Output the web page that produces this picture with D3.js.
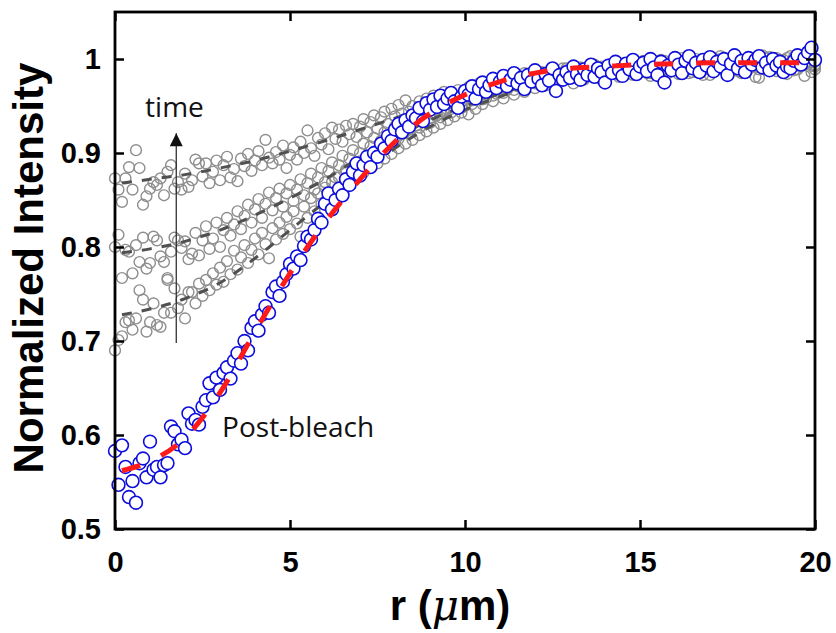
<!DOCTYPE html>
<html lang="en">
<head>
    <meta charset="UTF-8">
    <title>FRAP radial profiles</title>
    <script src="https://cdnjs.cloudflare.com/ajax/libs/d3/7.8.5/d3.min.js"></script>
    <style>
        html, body { margin: 0; padding: 0; background: #fff; }
        .tick text { font-family: "Liberation Sans", Arial, sans-serif; font-weight: bold; font-size: 29px; fill: #000; }
        .axis-title { font-family: "Liberation Sans", Arial, sans-serif; font-weight: bold; font-size: 42px; fill: #000; }
        .note { font-family: "Open Sans", sans-serif; font-size: 28px; fill: #111; }
    </style>
</head>
<body>
<div id="chart"></div>
<script>
    // radial position grid (um), one sample every 0.1 um
    const rGrid = d3.range(201).map(i => i / 10);

    const postBleach = [
        0.583, 0.547, 0.589, 0.566, 0.534, 0.551, 0.528, 0.570, 0.575, 0.555,
        0.593, 0.563, 0.566, 0.555, 0.568, 0.570, 0.609, 0.604, 0.590, 0.595,
        0.586, 0.623, 0.612, 0.616, 0.611, 0.630, 0.637, 0.655, 0.640, 0.661,
        0.648, 0.666, 0.672, 0.660, 0.679, 0.687, 0.676, 0.700, 0.690, 0.714,
        0.721, 0.711, 0.728, 0.737, 0.730, 0.752, 0.758, 0.748, 0.763, 0.771,
        0.782, 0.777, 0.790, 0.786, 0.801, 0.811, 0.808, 0.818, 0.830, 0.826,
        0.846, 0.857, 0.840, 0.850, 0.862, 0.855, 0.872, 0.866, 0.880, 0.889,
        0.876, 0.887, 0.896, 0.885, 0.900, 0.896, 0.910, 0.905, 0.918, 0.913,
        0.925, 0.931, 0.922, 0.935, 0.928, 0.940, 0.937, 0.948, 0.934, 0.953,
        0.946, 0.957, 0.949, 0.961, 0.952, 0.958, 0.964, 0.955, 0.948, 0.960,
        0.966, 0.962, 0.971, 0.958, 0.968, 0.975, 0.965, 0.972, 0.979, 0.969,
        0.976, 0.982, 0.971, 0.978, 0.985, 0.974, 0.980, 0.968, 0.983, 0.976,
        0.988, 0.979, 0.972, 0.984, 0.977, 0.990, 0.966, 0.983, 0.978, 0.986,
        0.980, 0.992, 0.984, 0.978, 0.989, 0.983, 0.994, 0.981, 0.990, 0.986,
        0.975, 0.993, 0.985, 0.997, 0.988, 0.982, 0.995, 0.989, 0.999, 0.984,
        0.992, 0.996, 0.987, 1.000, 0.991, 0.983, 0.997, 0.975, 0.993, 0.988,
        1.001, 0.994, 0.985, 0.998, 1.003, 0.990, 0.996, 0.986, 0.999, 0.993,
        1.002, 0.987, 0.997, 0.992, 1.000, 0.983, 0.995, 1.004, 0.990, 0.998,
        0.986, 1.001, 0.994, 0.999, 1.003, 0.991, 0.996, 0.988, 1.000, 0.993,
        0.997, 0.986, 0.992, 0.990, 0.998, 1.004, 0.994, 1.001, 1.007, 1.012,
        0.999
    ];

    const recoveryLate = [
        0.873, 0.861, 0.848, 0.873, 0.885, 0.861, 0.903, 0.884, 0.845, 0.854,
        0.862, 0.869, 0.866, 0.873, 0.855, 0.880, 0.887, 0.862, 0.869, 0.861,
        0.878, 0.864, 0.871, 0.893, 0.889, 0.875, 0.889, 0.868, 0.880, 0.892,
        0.871, 0.887, 0.896, 0.874, 0.883, 0.870, 0.894, 0.886, 0.899, 0.881,
        0.892, 0.902, 0.887, 0.914, 0.895, 0.889, 0.901, 0.893, 0.908, 0.884,
        0.898, 0.906, 0.893, 0.912, 0.900, 0.924, 0.905, 0.897, 0.916, 0.909,
        0.921, 0.904, 0.927, 0.915, 0.925, 0.912, 0.929, 0.920, 0.931, 0.917,
        0.928, 0.936, 0.922, 0.933, 0.940, 0.926, 0.938, 0.944, 0.931, 0.947,
        0.939, 0.951, 0.942, 0.956, 0.944, 0.950, 0.941, 0.955, 0.947, 0.958,
        0.950, 0.961, 0.946, 0.957, 0.965, 0.953, 0.962, 0.956, 0.967, 0.959,
        0.964, 0.970, 0.958, 0.969, 0.974, 0.962, 0.971, 0.966, 0.977, 0.968,
        0.973, 0.980, 0.969, 0.976, 0.983, 0.972, 0.979, 0.985, 0.974, 0.981,
        0.977, 0.986, 0.979, 0.972, 0.984, 0.988, 0.978, 0.985, 0.981, 0.990,
        0.983, 0.987, 0.980, 0.991, 0.985, 0.989, 0.982, 0.993, 0.986, 0.990,
        0.984, 0.994, 0.988, 0.991, 0.983, 0.995, 0.989, 0.992, 0.986, 0.996,
        0.990, 0.994, 0.985, 0.997, 0.991, 0.995, 0.988, 0.998, 0.992, 0.996,
        0.989, 0.999, 0.993, 0.997, 0.985, 0.996, 1.000, 0.992, 0.998, 0.990,
        0.995, 1.001, 0.993, 0.997, 0.988, 0.999, 0.994, 1.002, 0.996, 0.991,
        0.998, 0.993, 1.001, 0.995, 0.989, 0.999, 0.994, 1.002, 0.996, 0.991,
        0.999, 0.994, 1.001, 0.996, 0.988, 0.998, 0.993, 1.003, 0.997, 0.986,
        0.994
    ];

    const recoveryMid = [
        0.800, 0.813, 0.767, 0.797, 0.795, 0.772, 0.802, 0.784, 0.810, 0.777,
        0.783, 0.811, 0.807, 0.790, 0.784, 0.767, 0.795, 0.810, 0.807, 0.799,
        0.806, 0.787, 0.793, 0.815, 0.791, 0.807, 0.822, 0.798, 0.809, 0.826,
        0.800, 0.818, 0.831, 0.812, 0.824, 0.838, 0.819, 0.833, 0.845, 0.826,
        0.840, 0.851, 0.831, 0.846, 0.858, 0.839, 0.852, 0.862, 0.843, 0.857,
        0.866, 0.849, 0.861, 0.872, 0.855, 0.868, 0.878, 0.861, 0.874, 0.884,
        0.869, 0.881, 0.890, 0.874, 0.887, 0.897, 0.882, 0.894, 0.903, 0.889,
        0.900, 0.910, 0.896, 0.907, 0.916, 0.903, 0.913, 0.922, 0.909, 0.919,
        0.928, 0.915, 0.925, 0.934, 0.921, 0.931, 0.939, 0.927, 0.936, 0.944,
        0.932, 0.941, 0.949, 0.938, 0.946, 0.953, 0.943, 0.951, 0.958, 0.948,
        0.956, 0.962, 0.952, 0.960, 0.966, 0.957, 0.964, 0.970, 0.961, 0.968,
        0.973, 0.964, 0.971, 0.977, 0.967, 0.974, 0.980, 0.971, 0.977, 0.983,
        0.974, 0.980, 0.986, 0.976, 0.983, 0.988, 0.979, 0.985, 0.990, 0.981,
        0.987, 0.992, 0.983, 0.989, 0.978, 0.991, 0.985, 0.994, 0.987, 0.992,
        0.982, 0.993, 0.988, 0.996, 0.989, 0.984, 0.995, 0.990, 0.997, 0.986,
        0.993, 0.998, 0.991, 0.985, 0.996, 0.992, 0.999, 0.987, 0.994, 0.998,
        0.990, 0.996, 1.001, 0.988, 0.995, 0.999, 0.991, 0.997, 0.983, 0.996,
        1.000, 0.992, 0.998, 1.003, 0.990, 0.996, 1.001, 0.993, 0.987, 0.999,
        0.994, 1.002, 0.996, 0.981, 0.997, 1.004, 0.992, 0.998, 0.989, 1.001,
        0.995, 0.999, 0.990, 1.003, 0.996, 0.993, 1.000, 0.994, 1.005, 0.997,
        0.992
    ];

    const recoveryEarly = [
        0.690, 0.701, 0.705, 0.720, 0.722, 0.712, 0.724, 0.754, 0.744, 0.710,
        0.720, 0.740, 0.717, 0.715, 0.730, 0.765, 0.730, 0.756, 0.735, 0.744,
        0.724, 0.752, 0.752, 0.740, 0.761, 0.748, 0.765, 0.754, 0.772, 0.760,
        0.778, 0.763, 0.785, 0.771, 0.796, 0.776, 0.789, 0.802, 0.783, 0.797,
        0.809, 0.792, 0.815, 0.803, 0.788, 0.820, 0.808, 0.826, 0.814, 0.832,
        0.819, 0.838, 0.825, 0.811, 0.843, 0.831, 0.852, 0.838, 0.857, 0.846,
        0.863, 0.850, 0.869, 0.856, 0.874, 0.861, 0.880, 0.868, 0.885, 0.873,
        0.891, 0.879, 0.895, 0.884, 0.901, 0.889, 0.906, 0.894, 0.911, 0.899,
        0.916, 0.905, 0.920, 0.910, 0.925, 0.914, 0.929, 0.919, 0.933, 0.923,
        0.937, 0.927, 0.940, 0.931, 0.944, 0.935, 0.947, 0.939, 0.951, 0.943,
        0.950, 0.941, 0.956, 0.947, 0.961, 0.952, 0.958, 0.966, 0.955, 0.963,
        0.970, 0.958, 0.967, 0.974, 0.962, 0.971, 0.977, 0.965, 0.974, 0.980,
        0.969, 0.977, 0.984, 0.972, 0.980, 0.986, 0.975, 0.983, 0.978, 0.988,
        0.981, 0.974, 0.986, 0.990, 0.979, 0.987, 0.983, 0.992, 0.985, 0.978,
        0.990, 0.984, 0.994, 0.987, 0.981, 0.993, 0.988, 0.996, 0.983, 0.991,
        0.986, 0.995, 0.989, 0.982, 0.994, 0.998, 0.987, 0.992, 0.985, 0.997,
        0.991, 0.984, 0.996, 0.990, 0.999, 0.986, 0.993, 0.997, 0.988, 0.994,
        0.983, 0.996, 0.990, 1.000, 0.992, 0.986, 0.997, 0.991, 0.999, 0.985,
        0.994, 0.989, 0.998, 0.992, 0.980, 0.995, 1.001, 0.990, 0.996, 0.987,
        0.998, 0.991, 0.984, 0.996, 1.002, 0.989, 0.995, 0.982, 0.997, 0.993,
        0.989
    ];

    // fitted curves, sampled at fitR
    const fitR = [0.2, 1, 2, 3, 4, 5, 6, 7, 8, 9, 10, 11, 12, 13, 14, 15, 16, 17, 18, 19, 19.9];
    const fitPost  = [0.562, 0.572, 0.597, 0.645, 0.710, 0.772, 0.826, 0.872, 0.912, 0.942, 0.962, 0.976, 0.985, 0.990, 0.992, 0.994, 0.995, 0.996, 0.996, 0.996, 0.996];
    const fitLate  = [0.868, 0.872, 0.877, 0.884, 0.892, 0.902, 0.913, 0.925, 0.937, 0.949, 0.960, 0.970, 0.978, 0.985, 0.990, 0.993, 0.995, 0.996, 0.997, 0.997, 0.997];
    const fitMid   = [0.794, 0.798, 0.806, 0.818, 0.834, 0.852, 0.872, 0.895, 0.916, 0.935, 0.950, 0.963, 0.974, 0.982, 0.988, 0.992, 0.995, 0.996, 0.997, 0.997, 0.997];
    const fitEarly = [0.728, 0.734, 0.745, 0.762, 0.788, 0.818, 0.848, 0.877, 0.905, 0.928, 0.946, 0.960, 0.972, 0.981, 0.987, 0.991, 0.994, 0.996, 0.997, 0.997, 0.997];

    const xTicks = [0, 5, 10, 15, 20];
    const yTicks = [0.5, 0.6, 0.7, 0.8, 0.9, 1.0];

    const width = 836, height = 633;
    const margin = { top: 12, right: 21, bottom: 104, left: 115 };
    const innerW = width - margin.left - margin.right;
    const innerH = height - margin.top - margin.bottom;

    const svg = d3.select("#chart").append("svg")
        .attr("width", width)
        .attr("height", height);

    const g = svg.append("g")
        .attr("transform", `translate(${margin.left},${margin.top})`);

    const x = d3.scaleLinear().domain([0, 20]).range([0, innerW]);
    const y = d3.scaleLinear().domain([0.5, 1.05]).range([innerH, 0]);

    const toPoints = vals => vals.map((v, i) => ({ r: rGrid[i], v: v }));
    const toFit = vals => vals.map((v, i) => ({ r: fitR[i], v: v }));

    const line = d3.line()
        .x(d => x(d.r))
        .y(d => y(d.v))
        .curve(d3.curveMonotoneX);

    // grey recovery profiles
    [recoveryEarly, recoveryMid, recoveryLate].forEach(vals => {
        g.append("g")
            .selectAll("circle")
            .data(toPoints(vals))
            .join("circle")
            .attr("cx", d => x(d.r))
            .attr("cy", d => y(d.v))
            .attr("r", 5.4)
            .attr("fill", "none")
            .attr("stroke", "#8e8e8e")
            .attr("stroke-width", 1.4);
    });

    [fitEarly, fitMid, fitLate].forEach(vals => {
        g.append("path")
            .datum(toFit(vals))
            .attr("d", line)
            .attr("fill", "none")
            .attr("stroke", "#505050")
            .attr("stroke-width", 3)
            .attr("stroke-dasharray", "10,10");
    });

    // post-bleach profile
    g.append("g")
        .selectAll("circle")
        .data(toPoints(postBleach))
        .join("circle")
        .attr("cx", d => x(d.r))
        .attr("cy", d => y(d.v))
        .attr("r", 6.4)
        .attr("fill", "#fff")
        .attr("stroke", "#0d0ddc")
        .attr("stroke-width", 1.6);

    g.append("path")
        .datum(toFit(fitPost))
        .attr("d", line)
        .attr("fill", "none")
        .attr("stroke", "#ff1a1a")
        .attr("stroke-width", 5)
        .attr("stroke-dasharray", "19,23");

    // axes, ticks pointing inward
    const fmt = d => d === 1 ? "1" : d3.format(".1f")(d);

    g.append("g")
        .attr("transform", `translate(0,${innerH})`)
        .call(d3.axisBottom(x).tickValues(xTicks).tickSizeInner(-9).tickSizeOuter(0).tickPadding(22))
        .call(a => a.select(".domain").remove());

    g.append("g")
        .call(d3.axisLeft(y).tickValues(yTicks).tickFormat(fmt).tickSizeInner(-9).tickSizeOuter(0).tickPadding(14))
        .call(a => a.select(".domain").remove());

    g.append("g")
        .call(d3.axisTop(x).tickValues(xTicks).tickFormat("").tickSizeInner(-9).tickSizeOuter(0))
        .call(a => a.select(".domain").remove());

    g.append("g")
        .attr("transform", `translate(${innerW},0)`)
        .call(d3.axisRight(y).tickValues(yTicks).tickFormat("").tickSizeInner(-9).tickSizeOuter(0))
        .call(a => a.select(".domain").remove());

    g.selectAll(".tick line").attr("stroke", "#000").attr("stroke-width", 2.5);
    g.selectAll(".tick text").attr("font-family", null).attr("font-size", null);

    g.append("rect")
        .attr("width", innerW)
        .attr("height", innerH)
        .attr("fill", "none")
        .attr("stroke", "#000")
        .attr("stroke-width", 2.8);

    // annotations
    svg.append("defs").append("marker")
        .attr("id", "head")
        .attr("viewBox", "0 0 10 10")
        .attr("refX", 10)
        .attr("refY", 5)
        .attr("markerUnits", "userSpaceOnUse")
        .attr("markerWidth", 14)
        .attr("markerHeight", 13)
        .attr("orient", "auto")
        .append("path")
        .attr("d", "M0,0L10,5L0,10Z")
        .attr("fill", "#111");

    g.append("line")
        .attr("x1", x(1.75)).attr("y1", y(0.698))
        .attr("x2", x(1.75)).attr("y2", y(0.921))
        .attr("stroke", "#222")
        .attr("stroke-width", 1.2)
        .attr("marker-end", "url(#head)");

    g.append("text")
        .attr("class", "note")
        .attr("x", x(0.86))
        .attr("y", y(0.938))
        .text("time");

    g.append("text")
        .attr("class", "note")
        .attr("x", x(3.06))
        .attr("y", y(0.598))
        .text("Post-bleach");

    // axis titles
    svg.append("text")
        .attr("class", "axis-title")
        .attr("text-anchor", "middle")
        .attr("transform", "translate(43,268) rotate(-90)")
        .text("Normalized Intensity");

    const xt = svg.append("text")
        .attr("class", "axis-title")
        .attr("text-anchor", "middle")
        .attr("x", 450)
        .attr("y", 620);
    xt.append("tspan").text("r (");
    xt.append("tspan")
        .attr("font-family", "'DejaVu Serif', serif")
        .attr("font-style", "italic")
        .attr("font-weight", "normal")
        .text("μ");
    xt.append("tspan").text("m)");
</script>
</body>
</html>
